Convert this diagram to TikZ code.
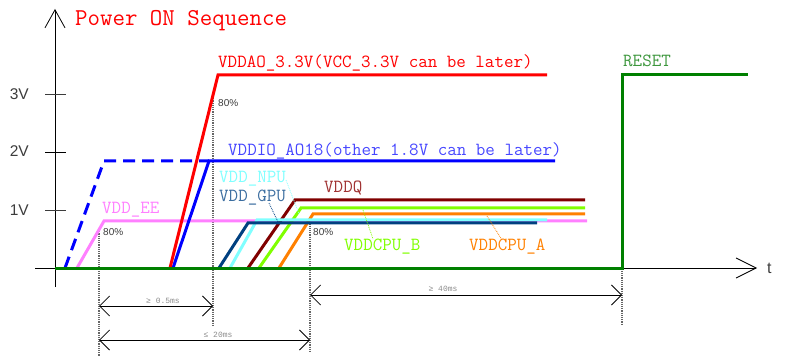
\documentclass[tikz,border=0pt]{standalone}
\usepackage{fontspec}
\setmainfont{Liberation Sans}
\newfontfamily\cour{Liberation Mono}
\usetikzlibrary{arrows.meta}

\definecolor{vred}{RGB}{255,0,0}
\definecolor{vblue}{RGB}{0,0,255}
\definecolor{vbluetxt}{RGB}{70,70,255}
\definecolor{vpink}{RGB}{255,128,255}
\definecolor{vcyan}{RGB}{128,255,255}
\definecolor{vnavy}{RGB}{0,64,128}
\definecolor{vnavytxt}{RGB}{60,110,160}
\definecolor{vdkred}{RGB}{128,0,0}
\definecolor{vdkredtxt}{RGB}{160,50,50}
\definecolor{vlime}{RGB}{128,255,0}
\definecolor{vorange}{RGB}{255,128,0}
\definecolor{vgreen}{RGB}{0,128,0}
\definecolor{vgreentxt}{RGB}{60,150,60}
\definecolor{ticktxt}{RGB}{60,60,60}
\definecolor{dimtxt}{RGB}{140,140,140}

\tikzset{
  sig/.style={line width=3pt},
  lbl/.style={font=\ttfamily\fontsize{18.5}{19}\selectfont, inner sep=0pt, anchor=base west},
  pct/.style={font=\fontsize{10}{11}\selectfont, text=ticktxt, inner sep=0pt, anchor=base west},
  ticklbl/.style={font=\fontsize{15.5}{16}\selectfont, text=ticktxt, inner sep=0pt, anchor=base east},
  guide/.style={densely dotted, line width=1.2pt, gray!80!black},
  leader/.style={densely dotted, line width=0.8pt},
  dimline/.style={line width=0.8pt, {Straight Barb[length=10pt,width=20pt]}-{Straight Barb[length=10pt,width=20pt]}},
  dimlbl/.style={font=\cour\fontsize{8}{9}\selectfont, text=dimtxt, inner sep=0pt, anchor=base}
}

\begin{document}
\begin{tikzpicture}[x=1pt,y=-1pt]
\useasboundingbox (0,0) rectangle (787,358);

%axes
\draw[line width=0.8pt, -{Straight Barb[length=18pt,width=20pt]}] (55,287)--(55,9);
\draw[line width=0.8pt, -{Straight Barb[length=20pt,width=20pt]}] (35,268)--(757,268);
\node[inner sep=0pt, anchor=base west, font=\fontsize{16}{17}\selectfont, text=ticktxt] (tlbl) at (767,273) {t};

\draw[line width=0.8pt, ticktxt] (45,94)--(66,94);
\draw[line width=0.8pt] (45,152)--(66,152);
\draw[line width=0.8pt, ticktxt] (45,210)--(66,210);
\node[ticklbl] (v3) at (29,100) {3V};
\node[ticklbl] (v2) at (29,157) {2V};
\node[ticklbl] (v1) at (29,215) {1V};

\node[inner sep=0pt, anchor=base west, font=\ttfamily\fontsize{24.2}{25}\selectfont, text=vred] (title) at (75,26) {Power ON Sequence};

%guide lines
\coordinate (gA) at (99,229); \coordinate (gAb) at (99,356);
\coordinate (gB) at (213,96); \coordinate (gBb) at (213,325);
\coordinate (gC) at (310,219); \coordinate (gCb) at (310,353);
\coordinate (gD) at (622,75); \coordinate (gDb) at (622,325);
\draw[guide] (gA)--(gAb);
\draw[guide] (gB)--(gBb);
\draw[guide] (gC)--(gCb);
\draw[guide] (gD)--(gDb);

%rails
\draw[sig, vpink] (77,268)--(104,221)--(587,221);
\draw[sig, vblue, dash pattern=on 12pt off 7pt] (65,268)--(104,161)--(209,161);
\draw[sig, vblue] (173,268)--(209,161)--(555,161);
\draw[sig, vred] (170,268)--(218,75)--(547,75);
\draw[sig, vorange] (279,268)--(313,214)--(585,214);
\draw[sig, vlime] (259,268)--(301,208)--(585,208);
\draw[sig, vdkred] (248,268)--(295,200)--(585,200);
\draw[sig, vcyan] (230,268)--(257,220)--(547,220);
\draw[sig, vnavy] (219,268)--(248,223)--(537,223);
\draw[sig, vgreen] (55,268)--(622,268)--(622,75)--(748,75);

%labels
\node[lbl, text=vred] (lVDDAO) at (218,68) {VDDAO\_3.3V(VCC\_3.3V can be later)};
\node[lbl, text=vbluetxt] (lVDDIO) at (228,156) {VDDIO\_AO18(other 1.8V can be later)};
\node[lbl, text=vpink] (lEE) at (102,214) {VDD\_EE};
\node[lbl, text=vcyan] (lNPU) at (219,183) {VDD\_NPU};
\node[lbl, text=vnavytxt] (lGPU) at (219,202) {VDD\_GPU};
\node[lbl, text=vdkredtxt] (lDDQ) at (324,193) {VDDQ};
\node[lbl, text=vlime] (lCPUB) at (344,251) {VDDCPU\_B};
\node[lbl, text=vorange] (lCPUA) at (469,251) {VDDCPU\_A};
\node[lbl, text=vgreentxt] (lRST) at (623,67) {RESET};

\draw[leader, vcyan] (286,180)--(299,214);
\draw[leader, vnavy] (269,203)--(278,222);
\draw[leader, vlime] (363,210)--(373,239);
\draw[leader, vorange] (487,216)--(502,240);

\node[pct] (p1) at (218,107) {80\%};
\node[pct] (p2) at (103,236) {80\%};
\node[pct] (p3) at (313,236) {80\%};

%timing
\draw[dimline] (99,306)--(213,306);
\node[dimlbl] (d1) at (163,303) {≥ 0.5ms};
\draw[dimline] (99,340)--(310,340);
\node[dimlbl] (d2) at (218,337) {≤ 20ms};
\draw[dimline] (310,295)--(622,295);
\node[dimlbl] (d3) at (443,291) {≥ 40ms};
\end{tikzpicture}
\end{document}
